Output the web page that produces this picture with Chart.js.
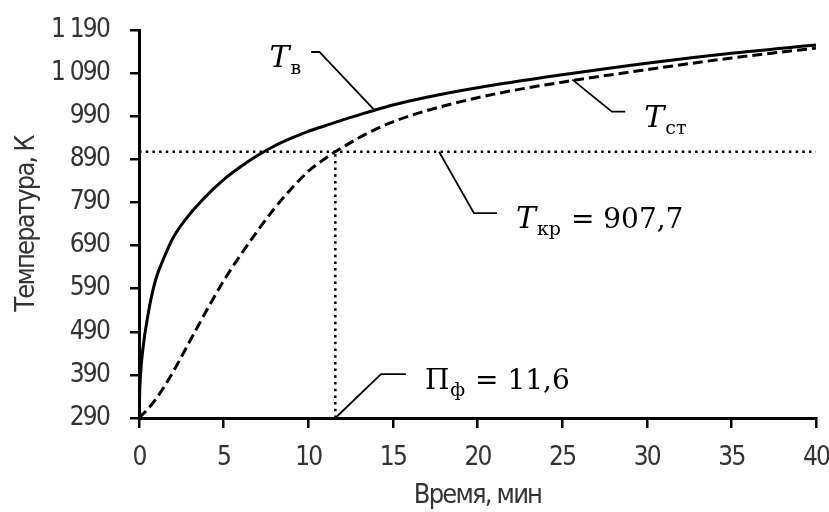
<!DOCTYPE html>
<html>
<head>
<meta charset="utf-8">
<script src="https://cdn.jsdelivr.net/npm/chart.js@4"></script>
<style>
  html,body{margin:0;padding:0;background:#fff;}
  #wrap{width:829px;height:512px;position:relative;}
</style>
</head>
<body>
<div id="wrap"><canvas id="c" width="829" height="512"></canvas></div>
<script>
// ---- data ----
const timeAir = [0, 0.05, 0.15, 0.3, 0.45, 0.65, 1, 1.5, 2, 2.8, 3.8, 5, 6, 7, 8, 9, 10, 11, 12, 13, 14, 15, 17, 20, 25, 30, 35, 40];
const tempAir = [290, 360, 420, 472, 510, 555, 613, 664, 707, 753, 798, 843, 873, 899, 921, 939, 955, 968, 981, 993, 1005, 1016, 1034, 1056, 1086, 1113, 1136, 1155];
const timeWall = [0, 0.5, 1, 2, 3, 4, 5, 6, 7, 8, 9, 10, 11, 11.6, 12, 13, 14, 15, 17, 20, 22, 25, 30, 35, 40];
const tempWall = [290, 310, 334, 396, 468, 540, 608, 668, 724, 776, 822, 862, 892, 907.7, 917, 940, 960, 977, 1003, 1033, 1049, 1069, 1098, 1125, 1148];
const T_CRIT = 907.7;
const P_F = 11.6;
const xTicks = [0, 5, 10, 15, 20, 25, 30, 35, 40];
const yTicks = [290, 390, 490, 590, 690, 790, 890, 990, 1090, 1190];
const xTitle = 'Время, мин';
const yTitle = 'Температура, К';

const fmtComma = v => String(v).replace('.', ',');
const fmtThousands = v => v >= 1000 ? Math.floor(v / 1000) + ' ' + String(v % 1000).padStart(3, '0') : String(v);

// annotation leaders in data units [t, T]
const notes = [
  {sym: 'T', sub: 'в', rest: '', side: 'left', pts: [[13.9, 1004.5], [10.66, 1139], [10.17, 1139]]},
  {sym: 'T', sub: 'ст', rest: '', side: 'right', pts: [[25.6, 1075], [27.94, 1000.6], [28.73, 1000.6]]},
  {sym: 'T', sub: 'кр', rest: ' = ' + fmtComma(T_CRIT), side: 'right', pts: [[17.73, T_CRIT], [19.79, 765], [21.15, 765]]},
  {sym: 'Π', sub: 'ф', rest: ' = ' + fmtComma(P_F), side: 'right', pts: [[P_F, 290], [14.3, 391.7], [15.77, 391.7]]}
];

const TICK_FONT = '"DejaVu Sans Condensed", "Liberation Sans Narrow", Roboto, sans-serif';
const MATH_FONT = '"DejaVu Serif", "Liberation Serif", serif';
const TXT = '#333333';

const spacingPlugin = {
  id: 'spacing',
  beforeDraw(chart) { chart.ctx.letterSpacing = '-1.8px'; },
  beforeLayout(chart) { chart.ctx.letterSpacing = '-1.8px'; }
};

const annotPlugin = {
  id: 'annot',
  afterDatasetsDraw(chart) {
    const ctx = chart.ctx, xs = chart.scales.x, ys = chart.scales.y;
    ctx.save();
    ctx.letterSpacing = '0px';
    ctx.strokeStyle = '#000';
    ctx.lineWidth = 1.8;
    ctx.lineJoin = 'miter';
    for (const n of notes) {
      const p = n.pts.map(([t, v]) => [xs.getPixelForValue(t), ys.getPixelForValue(v)]);
      ctx.beginPath();
      ctx.moveTo(p[0][0], p[0][1]);
      for (let i = 1; i < p.length; i++) ctx.lineTo(p[i][0], p[i][1]);
      ctx.stroke();
      const end = p[p.length - 1];
      const mainF = 'italic 30px ' + MATH_FONT;
      const uprF = '28px ' + MATH_FONT;
      const subF = '19px ' + MATH_FONT;
      const symFont = n.sym === 'T' ? mainF : uprF;
      ctx.font = symFont; const wSym = ctx.measureText(n.sym).width;
      ctx.font = subF; const wSub = ctx.measureText(n.sub).width;
      ctx.font = uprF; const wRest = n.rest ? ctx.measureText(n.rest).width : 0;
      const total = wSym + 1 + wSub + wRest;
      const x0 = n.side === 'right' ? end[0] + 19 : end[0] - 10 - total;
      const base = end[1] + 15;
      ctx.fillStyle = '#000';
      ctx.textBaseline = 'alphabetic';
      ctx.textAlign = 'left';
      ctx.font = symFont; ctx.fillText(n.sym, x0, base);
      ctx.font = subF; ctx.fillText(n.sub, x0 + wSym + 1, base + 7);
      if (n.rest) { ctx.font = uprF; ctx.fillText(n.rest, x0 + wSym + 2 + wSub, base); }
    }
    ctx.restore();
  }
};

new Chart(document.getElementById('c'), {
  type: 'line',
  data: {
    datasets: [
      {label: 'Tв', data: timeAir.map((t, i) => ({x: t, y: tempAir[i]})), borderColor: '#000', borderWidth: 3, pointRadius: 0, cubicInterpolationMode: 'monotone', fill: false},
      {label: 'Tст', data: timeWall.map((t, i) => ({x: t, y: tempWall[i]})), borderColor: '#000', borderWidth: 3, borderDash: [10, 5], pointRadius: 0, cubicInterpolationMode: 'monotone', fill: false},
      {label: 'Tкр', data: [{x: xTicks[0], y: T_CRIT}, {x: xTicks[xTicks.length - 1], y: T_CRIT}], borderColor: '#000', borderWidth: 2.5, borderDash: [2.5, 4.2], pointRadius: 0, fill: false},
      {label: 'Пф', data: [{x: P_F, y: yTicks[0]}, {x: P_F, y: T_CRIT}], borderColor: '#000', borderWidth: 2.5, borderDash: [2.5, 4.2], pointRadius: 0, fill: false}
    ]
  },
  options: {
    responsive: false,
    animation: false,
    layout: {padding: {left: 0, right: 13, top: 30, bottom: 0}},
    plugins: {legend: {display: false}, tooltip: {enabled: false}},
    scales: {
      x: {
        type: 'linear', min: xTicks[0], max: xTicks[xTicks.length - 1],
        afterBuildTicks: s => { s.ticks = xTicks.map(v => ({value: v})); },
        ticks: {font: {family: TICK_FONT, size: 26}, color: TXT, padding: 15, maxRotation: 0, autoSkip: false},
        grid: {drawOnChartArea: false, drawTicks: true, tickLength: 10, color: '#000', lineWidth: 2.5},
        border: {display: true, color: '#000', width: 3},
        title: {display: true, text: xTitle, font: {family: TICK_FONT, size: 27}, color: TXT, padding: 0},
        afterFit: s => { s.height = 94; s.paddingLeft = 0; s.paddingRight = 0; }
      },
      y: {
        type: 'linear', min: yTicks[0], max: yTicks[yTicks.length - 1],
        afterBuildTicks: s => { s.ticks = yTicks.map(v => ({value: v})); },
        ticks: {font: {family: TICK_FONT, size: 26}, color: TXT, padding: 21, callback: v => fmtThousands(v), autoSkip: false},
        grid: {drawOnChartArea: false, drawTicks: true, tickLength: 9, color: '#000', lineWidth: 2.5},
        border: {display: true, color: '#000', width: 3},
        title: {display: true, text: yTitle, font: {family: TICK_FONT, size: 27}, color: TXT, padding: {top: 11, bottom: 0}},
        afterFit: s => { s.width = 139; s.paddingTop = 0; s.paddingBottom = 0; }
      }
    }
  },
  plugins: [spacingPlugin, annotPlugin]
});
</script>
</body>
</html>
